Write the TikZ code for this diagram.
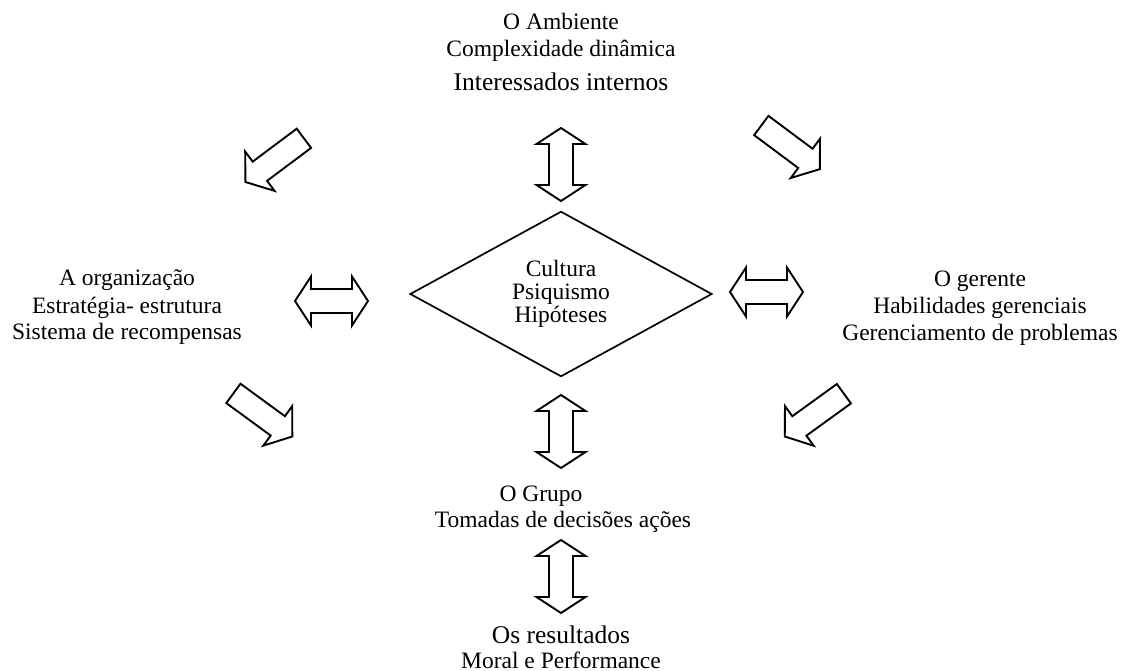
\documentclass[tikz,border=0pt]{standalone}
\usepackage{fontspec}
\setmainfont{Liberation Serif}
\usetikzlibrary{shapes.geometric}

\tikzset{
  blockline/.style={draw=black, line width=1.9pt, line join=miter, fill=white},
  txt/.style={inner sep=0pt, anchor=base, font=\fontsize{23.5}{27}\selectfont},
  bigtxt/.style={inner sep=0pt, anchor=base, font=\fontsize{25.5}{29}\selectfont},
  % single block arrow, tail at the origin, tip at (73,0)
  sarrow/.pic={
    \path[blockline] (0,-12) -- (55,-12) -- (55,-24.5) -- (73,0)
      -- (55,24.5) -- (55,12) -- (0,12) -- cycle;
  },
  % double-headed block arrow from (0,0) to (73,0)
  darrow/.pic={
    \path[blockline] (0,0) -- (16,-24.5) -- (16,-12) -- (57,-12) -- (57,-24.5)
      -- (73,0) -- (57,24.5) -- (57,12) -- (16,12) -- (16,24.5) -- cycle;
  }
}

\begin{document}
\begin{tikzpicture}[x=1pt, y=-1pt]
  \useasboundingbox (0,0) rectangle (1128,671);

  % central diamond
  \node[diamond, draw, line width=1.7pt, minimum width=302pt, minimum height=156pt,
        inner sep=0pt, align=center, font=\fontsize{23.5}{23}\selectfont]
        (core) at (561,294) {Cultura\\Psiquismo\\Hipóteses};

  % environment, top
  \node[txt] (amb1) at (561,30) {O Ambiente};
  \node[txt] (amb2) at (561,57) {Complexidade dinâmica};
  \node[bigtxt] (amb3) at (561,91) {Interessados internos};

  % organization, left
  \node[txt] (org1) at (127,286) {A organização};
  \node[txt] (org2) at (127,313) {Estratégia- estrutura};
  \node[txt] (org3) at (127,340) {Sistema de recompensas};

  % manager, right
  \node[txt] (ger1) at (980,287) {O gerente};
  \node[txt] (ger2) at (980,314) {Habilidades gerenciais};
  \node[txt] (ger3) at (980,341) {Gerenciamento de problemas};

  % group, below
  \node[txt] (grp1) at (541,501) {O Grupo};
  \node[txt] (grp2) at (563,527) {Tomadas de decisões ações};

  % results, bottom
  \node[bigtxt] (res1) at (561,643) {Os resultados};
  \node[txt] (res2) at (561,668) {Moral e Performance};

  % vertical double arrows
  \pic[rotate=-90] at (561,128) {darrow};
  \pic[rotate=-90] at (561,395) {darrow};
  \pic[rotate=-90] at (561,540) {darrow};

  % horizontal double arrows
  \pic at (295,301) {darrow};
  \pic at (730,292) {darrow};

  % diagonal single arrows
  \pic[rotate=216.8] at (303.9,138.3) {sarrow};
  \pic[rotate=-36.7] at (761.3,125.5) {sarrow};
  \pic[rotate=-36.2] at (233.4,393.4) {sarrow};
  \pic[rotate=215.9] at (843.9,393.7) {sarrow};
\end{tikzpicture}
\end{document}
